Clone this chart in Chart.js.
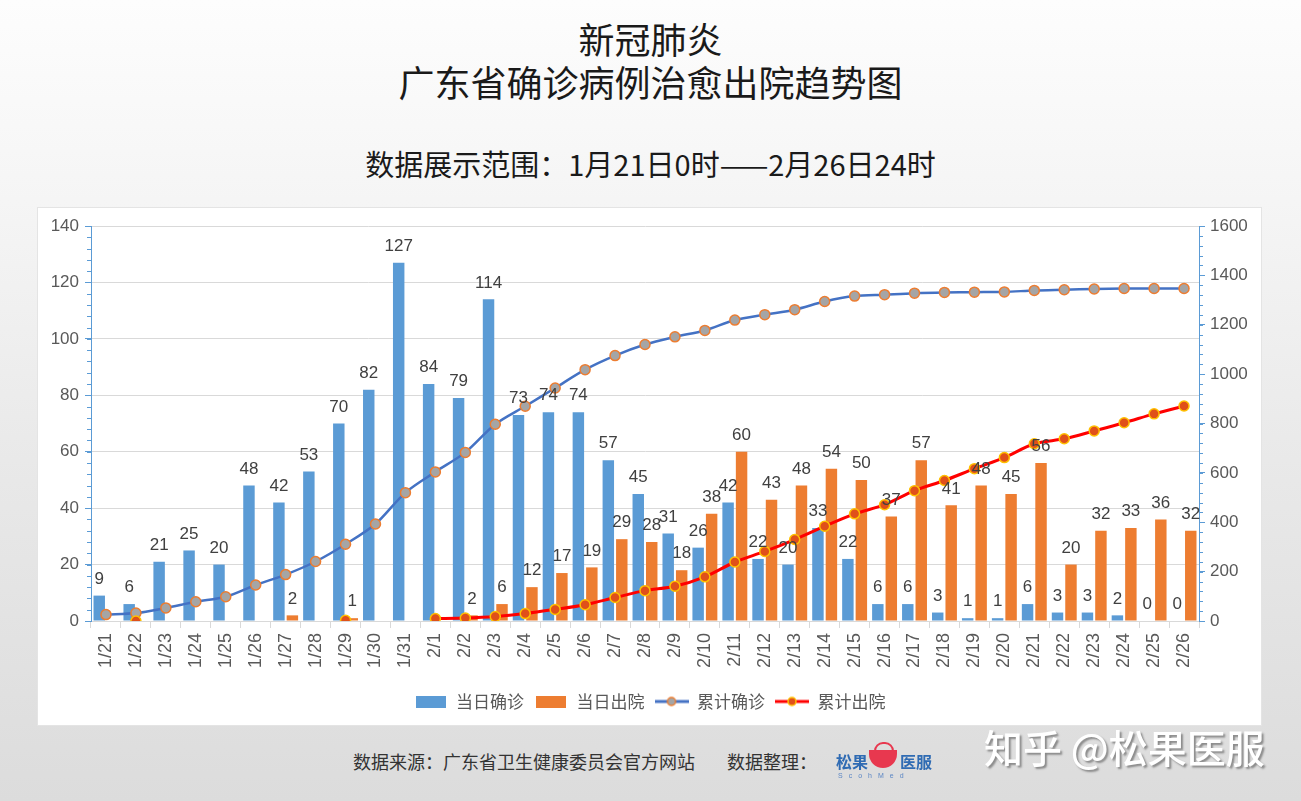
<!DOCTYPE html>
<html><head><meta charset="utf-8">
<script src="https://cdn.jsdelivr.net/npm/chart.js@4/dist/chart.umd.min.js"></script>
<style>
html,body{margin:0;padding:0;width:1301px;height:801px;overflow:hidden;}
body{position:relative;background:linear-gradient(to bottom,#fdfdfd 0%,#f5f5f5 25%,#e8e8e8 60%,#dcdcdc 100%);font-family:"Noto Sans CJK SC","Noto Sans",sans-serif;color:#1a1a1a;}
.t{position:absolute;left:0;width:1301px;text-align:center;white-space:nowrap;}
#t1{top:15px;font-size:36px;line-height:46px;font-weight:400;}
#t2{top:58px;font-size:36px;line-height:46px;font-weight:400;}
#t3{top:142px;font-size:29px;line-height:42px;font-weight:400;}
#box{position:absolute;left:37px;top:207px;width:1225px;height:519px;background:#fff;border:1px solid #e4e4e4;box-sizing:border-box;}
#chartwrap{position:absolute;left:37px;top:207px;width:1225px;height:519px;}
#foot{position:absolute;left:353px;top:747px;font-size:18px;line-height:28px;color:#333;white-space:nowrap;}
#foot2{position:absolute;left:727px;top:747px;font-size:18px;line-height:28px;color:#333;white-space:nowrap;}
#logo{position:absolute;left:836px;top:742px;width:100px;height:40px;}
#logo .a{position:absolute;left:0;top:7px;font-size:16px;font-weight:700;color:#2f6bb3;}
#logo .b{position:absolute;left:64px;top:7px;font-size:16px;font-weight:700;color:#2f6bb3;}
#logo .c{position:absolute;left:33px;top:8px;width:28px;height:18px;border-radius:0 0 14px 14px;background:#e8384f;}
#logo .d{position:absolute;left:38px;top:0px;width:16px;height:12px;border:2px solid #e8384f;border-radius:9px 9px 2px 2px;}
#logo .e{position:absolute;left:2px;top:30px;font-size:7px;letter-spacing:6px;color:#5b86c4;font-family:"Liberation Sans",sans-serif;}
#wm{position:absolute;left:984px;top:721px;font-size:39px;line-height:50px;color:#fff;text-shadow:2px 2px 2px #8a8a8a;font-weight:500;white-space:nowrap;}
</style></head>
<body>
<div class="t" id="t1">新冠肺炎</div>
<div class="t" id="t2">广东省确诊病例治愈出院趋势图</div>
<div class="t" id="t3">数据展示范围：1月21日0时——2月26日24时</div>
<div id="box"></div>
<div id="chartwrap"><canvas id="c" width="1225" height="519"></canvas></div>
<div id="foot">数据来源：广东省卫生健康委员会官方网站</div>
<div id="foot2">数据整理：</div>
<div id="logo"><span class="a">松果</span><span class="d"></span><span class="c"></span><span class="b">医服</span><span class="e">ScohMed</span></div>
<div id="wm">知乎 @松果医服</div>
<script>
// ---- data ----
const categories = ["1/21","1/22","1/23","1/24","1/25","1/26","1/27","1/28","1/29","1/30","1/31","2/1","2/2","2/3","2/4","2/5","2/6","2/7","2/8","2/9","2/10","2/11","2/12","2/13","2/14","2/15","2/16","2/17","2/18","2/19","2/20","2/21","2/22","2/23","2/24","2/25","2/26"];
const dailyConfirmed = [9,6,21,25,20,48,42,53,70,82,127,84,79,114,73,74,74,57,45,31,26,42,22,20,33,22,6,6,3,1,1,6,3,3,2,0,0];
const dailyDischarged = [null,null,null,null,null,null,2,null,1,null,null,null,2,6,12,17,19,29,28,18,38,60,43,48,54,50,37,57,41,48,45,56,20,32,33,36,32];
const cumConfirmed = [26,32,53,78,98,146,188,241,311,393,520,604,683,797,870,944,1018,1075,1120,1151,1177,1219,1241,1261,1294,1316,1322,1328,1331,1332,1333,1339,1342,1345,1347,1347,1347];
const cumDischarged = [null,0,null,null,null,null,null,null,3,null,null,10,12,18,30,47,66,95,123,141,179,239,282,330,384,434,471,528,569,617,662,718,738,770,803,839,871];
const seriesNames = ["当日确诊","当日出院","累计确诊","累计出院"];
const leftAxis = {min:0, max:140, step:20, minor:4};
const rightAxis = {min:0, max:1600, step:200, minor:40};

// ---- styles ----
const BLUE='#5B9BD5', ORANGE='#ED7D31', LBLUE='#4472C4', RED='#FF0000';
const LATIN='"Liberation Sans", Arial, sans-serif';
const CJK='"Noto Sans CJK SC", sans-serif';

function rectIcon(color){const c=document.createElement('canvas');c.width=30;c.height=12;const g=c.getContext('2d');g.fillStyle=color;g.fillRect(0,0,30,12);return c;}
function lineIcon(lc,fill,border){const c=document.createElement('canvas');c.width=34;c.height=12;const g=c.getContext('2d');g.strokeStyle=lc;g.lineWidth=3;g.beginPath();g.moveTo(0,6);g.lineTo(34,6);g.stroke();g.beginPath();g.arc(17,6,4,0,Math.PI*2);g.fillStyle=fill;g.fill();g.lineWidth=1.5;g.strokeStyle=border;g.stroke();return c;}
const icons=[rectIcon(BLUE),rectIcon(ORANGE),lineIcon(LBLUE,'#A5A5A5',ORANGE),lineIcon(RED,'#E0501A','#FFC000')];

const barLabels={id:'barLabels',afterDatasetsDraw(chart){
  const ctx=chart.ctx;ctx.save();ctx.font='17px '+LATIN;ctx.fillStyle='#404040';ctx.textAlign='center';ctx.textBaseline='bottom';
  chart.data.datasets.forEach((ds,i)=>{ if(ds.type!=='bar')return; const meta=chart.getDatasetMeta(i);
    meta.data.forEach((el,j)=>{const v=ds.data[j]; if(v===null||v===undefined)return; ctx.fillText(String(v),el.x,el.y-8);});});
  ctx.restore();}};

const minorTicks={id:'minorTicks',afterDraw(chart){
  const ctx=chart.ctx;ctx.save();ctx.strokeStyle=BLUE;ctx.lineWidth=1;
  const l=chart.scales.y,r=chart.scales.y1;
  for(let v=leftAxis.min;v<=leftAxis.max;v+=leftAxis.minor){const p=Math.round(l.getPixelForValue(v))+0.5;ctx.beginPath();ctx.moveTo(l.right-4,p);ctx.lineTo(l.right,p);ctx.stroke();}
  for(let v=rightAxis.min;v<=rightAxis.max;v+=rightAxis.minor){const p=Math.round(r.getPixelForValue(v))+0.5;ctx.beginPath();ctx.moveTo(r.left,p);ctx.lineTo(r.left+4,p);ctx.stroke();}
  ctx.restore();}};

new Chart(document.getElementById('c'),{
  data:{labels:categories,datasets:[
    {type:'bar',label:seriesNames[0],data:dailyConfirmed,backgroundColor:BLUE,yAxisID:'y',order:2,categoryPercentage:0.9,barPercentage:0.85},
    {type:'bar',label:seriesNames[1],data:dailyDischarged,backgroundColor:ORANGE,yAxisID:'y',order:2,categoryPercentage:0.9,barPercentage:0.85},
    {type:'line',label:seriesNames[2],data:cumConfirmed,borderColor:LBLUE,borderWidth:2.5,tension:0.3,pointRadius:5,pointBackgroundColor:'#A5A5A5',pointBorderColor:ORANGE,pointBorderWidth:1.5,yAxisID:'y1',order:1},
    {type:'line',label:seriesNames[3],data:cumDischarged,borderColor:RED,borderWidth:3,tension:0.3,pointRadius:5,pointBackgroundColor:'#E0501A',pointBorderColor:'#FFC000',pointBorderWidth:1.5,yAxisID:'y1',order:0,spanGaps:false}
  ]},
  options:{responsive:false,animation:false,
    layout:{padding:{top:19,left:0,right:0,bottom:6}},
    plugins:{tooltip:{enabled:false},
      legend:{position:'bottom',labels:{usePointStyle:true,pointStyleWidth:34,boxHeight:12,padding:10,color:'#595959',font:{family:CJK,size:17},
        generateLabels(chart){return chart.data.datasets.map((ds,i)=>({text:ds.label,pointStyle:icons[i],datasetIndex:i,hidden:false,fontColor:'#595959',lineWidth:0,strokeStyle:'rgba(0,0,0,0)',fillStyle:'rgba(0,0,0,0)'}));}}}},
    scales:{
      x:{offset:true,grid:{offset:true,drawOnChartArea:false,drawTicks:true,tickLength:7,color:'#D9D9D9'},border:{color:'#D9D9D9'},
        ticks:{minRotation:90,maxRotation:90,autoSkip:false,color:'#595959',font:{family:LATIN,size:18},padding:5},
        afterFit(s){s.height=62;}},
      y:{position:'left',min:leftAxis.min,max:leftAxis.max,grid:{color:'#D9D9D9',tickColor:BLUE,tickLength:6},border:{color:BLUE},
        ticks:{stepSize:leftAxis.step,color:'#595959',font:{family:LATIN,size:17},padding:6,callback:v=>String(v)},afterFit(s){s.width=54;}},
      y1:{position:'right',min:rightAxis.min,max:rightAxis.max,grid:{drawOnChartArea:false,tickColor:BLUE,tickLength:6},border:{color:BLUE},
        ticks:{stepSize:rightAxis.step,color:'#595959',font:{family:LATIN,size:17},padding:5,callback:v=>String(v)},afterFit(s){s.width=63;}}
    }},
  plugins:[barLabels,minorTicks]
});
</script>
</body></html>
